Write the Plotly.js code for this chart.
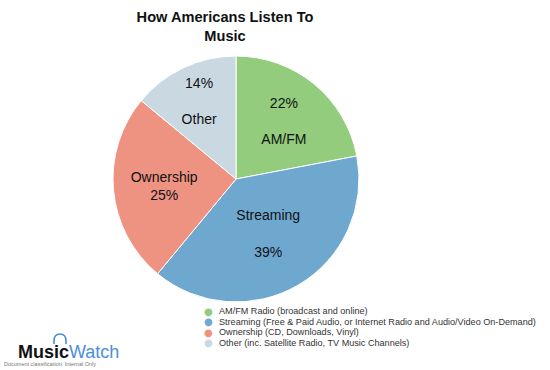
<!DOCTYPE html>
<html>
<head>
<meta charset="utf-8">
<script src="https://cdn.plot.ly/plotly-3.0.1.min.js"></script>
<style>html,body{margin:0;padding:0;background:#fff;}#chart{width:550px;height:370px;}</style>
</head>
<body>
<div id="chart"></div>
<script>
const categories = ["AM/FM", "Streaming", "Ownership", "Other"];
const shares = [22, 39, 25, 14];
const legendLabels = [
  "AM/FM Radio (broadcast and online)",
  "Streaming (Free & Paid Audio, or Internet Radio and Audio/Video On-Demand)",
  "Ownership (CD, Downloads, Vinyl)",
  "Other (inc. Satellite Radio, TV Music Channels)"
];
const colors = ["#92cc7c", "#6fa8cf", "#ee9282", "#cad9e1"];
const templates = [
  "%{percent:.0%}<br><br>%{label}",
  "%{label}<br><br>%{percent:.0%}",
  "%{label}<br>%{percent:.0%}",
  "%{percent:.0%}<br><br>%{label}"
];

const font = "Liberation Sans, Arial, sans-serif";
const W = 550, H = 370;
const px = x => x / W, py = y => 1 - y / H;

const pie = {
  type: "pie",
  labels: categories,
  values: shares,
  sort: false,
  direction: "clockwise",
  rotation: 0,
  marker: {colors: colors, line: {color: "#ffffff", width: 1}},
  texttemplate: templates,
  textposition: "inside",
  insidetextorientation: "horizontal",
  textfont: {family: font, size: 14, color: "#111111"},
  domain: {x: [px(236-123), px(236+123)], y: [py(302), py(56)]},
  showlegend: false,
  hoverinfo: "label+percent"
};

const annotations = [];
const legendTop = 311, legendStep = 10.6;
legendLabels.forEach((t, i) => {
  const y = py(legendTop + i*legendStep);
  annotations.push({xref: "paper", yref: "paper", x: px(208), y: y, xanchor: "center", yanchor: "middle",
    text: "●", showarrow: false, font: {family: "DejaVu Sans", size: 10, color: colors[i]}});
  annotations.push({xref: "paper", yref: "paper", x: px(217), y: y, xanchor: "left", yanchor: "middle",
    text: t, showarrow: false, font: {family: font, size: 9.1, color: "#333333"}});
});
annotations.push({xref: "paper", yref: "paper", x: px(16), y: py(352), xanchor: "left", yanchor: "middle",
  text: "<b>Music</b><span style=\"color:#4a8fdc\">Watch</span>", showarrow: false,
  font: {family: font, size: 18, color: "#111111"}});
annotations.push({xref: "paper", yref: "paper", x: px(2), y: py(363.5), xanchor: "left", yanchor: "middle",
  text: "Document classification: Internal Only", showarrow: false,
  font: {family: font, size: 5.5, color: "#777777"}});

const hp = `M ${px(54)} ${py(344)} L ${px(54)} ${py(341)} Q ${px(54)} ${py(334)} ${px(60)} ${py(334)} Q ${px(66)} ${py(334)} ${px(66)} ${py(341)} L ${px(66)} ${py(344)}`;

const layout = {
  width: W, height: H,
  margin: {l: 0, r: 0, t: 0, b: 0},
  paper_bgcolor: "#ffffff",
  plot_bgcolor: "#ffffff",
  title: {text: "<b>How Americans Listen To<br>Music</b>", x: px(225), xref: "paper", xanchor: "center",
    y: py(22), yref: "container", yanchor: "top", font: {family: font, size: 14.6, color: "#111111"}},
  annotations: annotations,
  shapes: [{type: "path", xref: "paper", yref: "paper", path: hp, line: {color: "#4a8fdc", width: 1.6}}],
  showlegend: false
};

Plotly.newPlot("chart", [pie], layout, {displayModeBar: false, staticPlot: true});
</script>
</body>
</html>
